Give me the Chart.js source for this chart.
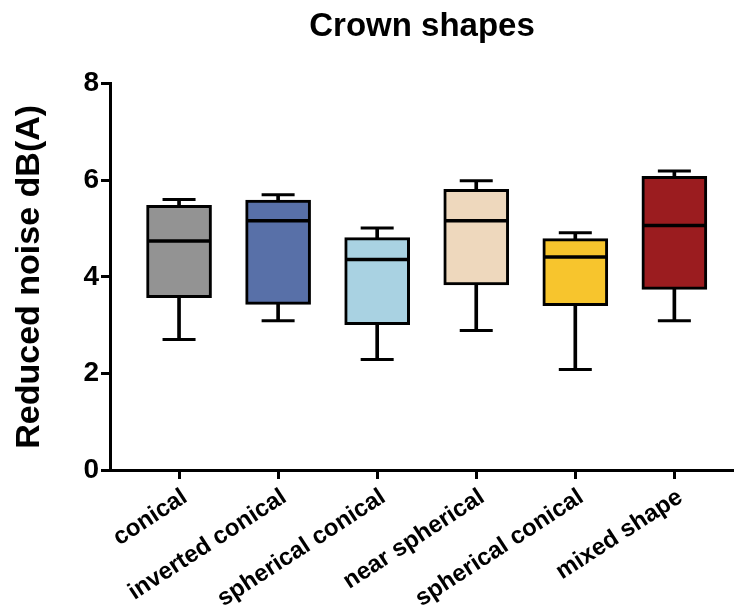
<!DOCTYPE html>
<html>
<head>
<meta charset="utf-8">
<title>Crown shapes</title>
<script src="https://cdn.jsdelivr.net/npm/chart.js@4.4.1/dist/chart.umd.min.js"></script>
<style>
  html, body { margin: 0; padding: 0; background: #ffffff; }
  canvas { display: block; }
</style>
</head>
<body>
<canvas id="chart" width="734" height="616"></canvas>
<script>
// Crown shape groups and their five-number summaries (reduced noise, dB(A))
const categories = ['conical', 'inverted conical', 'spherical conical', 'near spherical', 'spherical conical', 'mixed shape'];
const whiskerLow   = [2.70, 3.09, 2.29, 2.89, 2.08, 3.09];
const quartileLow  = [3.57, 3.43, 3.01, 3.83, 3.40, 3.74];
const medians      = [4.74, 5.16, 4.36, 5.16, 4.41, 5.06];
const quartileHigh = [5.48, 5.59, 4.81, 5.81, 4.79, 6.08];
const whiskerHigh  = [5.60, 5.70, 5.01, 5.99, 4.91, 6.19];
const yTicks = [0, 2, 4, 6, 8];

const boxColors = ['#939393', '#5870a8', '#a9d2e2', '#eed8bd', '#f7c52d', '#9b1c1f'];
const FONT = '"Liberation Sans", Arial, Helvetica, sans-serif';

Chart.defaults.font.family = FONT;
Chart.defaults.color = '#000';

const positions = categories.map((_, i) => i);

new Chart(document.getElementById('chart'), {
  type: 'bar',
  data: {
    datasets: [
      {
        // whisker stems, min to max, hidden inside the box where they overlap
        type: 'bar',
        label: 'range',
        data: positions.map(i => ({ x: i, y: [whiskerLow[i], whiskerHigh[i]] })),
        backgroundColor: '#000',
        borderWidth: 0,
        barThickness: 3,
        grouped: false,
        order: 3
      },
      {
        // interquartile boxes
        type: 'bar',
        label: 'IQR',
        data: positions.map(i => ({ x: i, y: [quartileLow[i], quartileHigh[i]] })),
        backgroundColor: boxColors,
        borderColor: '#000',
        borderWidth: 3,
        borderSkipped: false,
        barThickness: 65,
        grouped: false,
        order: 2
      },
      {
        // whisker caps
        type: 'scatter',
        label: 'caps',
        data: positions.map(i => ({ x: i, y: whiskerLow[i] }))
          .concat(positions.map(i => ({ x: i, y: whiskerHigh[i] }))),
        pointStyle: 'line',
        pointRadius: 16.5,
        pointHoverRadius: 16.5,
        pointBorderColor: '#000',
        pointBorderWidth: 3,
        borderColor: '#000',
        order: 1
      },
      {
        // median lines
        type: 'scatter',
        label: 'median',
        data: positions.map(i => ({ x: i, y: medians[i] })),
        pointStyle: 'line',
        pointRadius: 31,
        pointHoverRadius: 31,
        pointBorderColor: '#000',
        pointBorderWidth: 3.5,
        borderColor: '#000',
        order: 0
      }
    ]
  },
  options: {
    responsive: false,
    animation: false,
    devicePixelRatio: 1,
    // point markers must not shrink the plot area
    layout: { padding: 0, autoPadding: false },
    events: [],
    plugins: {
      legend: { display: false },
      tooltip: { enabled: false },
      title: {
        display: true,
        text: 'Crown shapes',
        fullSize: false,
        color: '#000',
        font: { family: FONT, size: 33, weight: 'bold' },
        padding: { top: 7, bottom: 37 }
      }
    },
    scales: {
      x: {
        type: 'linear',
        min: -0.697,
        max: 5.602,
        offset: false,
        afterBuildTicks: scale => { scale.ticks = positions.map(v => ({ value: v })); },
        afterFit: scale => {
          scale.height = 146;
          scale.paddingLeft = 0;
          scale.paddingRight = 0;
        },
        ticks: {
          autoSkip: false,
          minRotation: 33,
          maxRotation: 33,
          padding: 4,
          labelOffset: 6,
          color: '#000',
          font: { family: FONT, size: 24, weight: 'bold' },
          callback: value => categories[value]
        },
        grid: {
          offset: false,
          drawOnChartArea: false,
          drawTicks: true,
          tickLength: 9,
          tickWidth: 3,
          tickColor: '#000'
        },
        border: { display: true, width: 3, color: '#000' }
      },
      y: {
        type: 'linear',
        min: 0,
        max: 8,
        afterBuildTicks: scale => { scale.ticks = yTicks.map(v => ({ value: v })); },
        afterFit: scale => { scale.width = 110; },
        ticks: {
          padding: 2,
          color: '#000',
          font: { family: FONT, size: 28, weight: 'bold' }
        },
        grid: {
          offset: false,
          drawOnChartArea: false,
          drawTicks: true,
          tickLength: 9,
          tickWidth: 3,
          tickColor: '#000'
        },
        border: { display: true, width: 3, color: '#000' },
        title: {
          display: true,
          text: 'Reduced noise dB(A)',
          color: '#000',
          font: { family: FONT, size: 34, weight: 'bold' },
          padding: { top: 9, bottom: 0 }
        }
      }
    }
  }
});
</script>
</body>
</html>
